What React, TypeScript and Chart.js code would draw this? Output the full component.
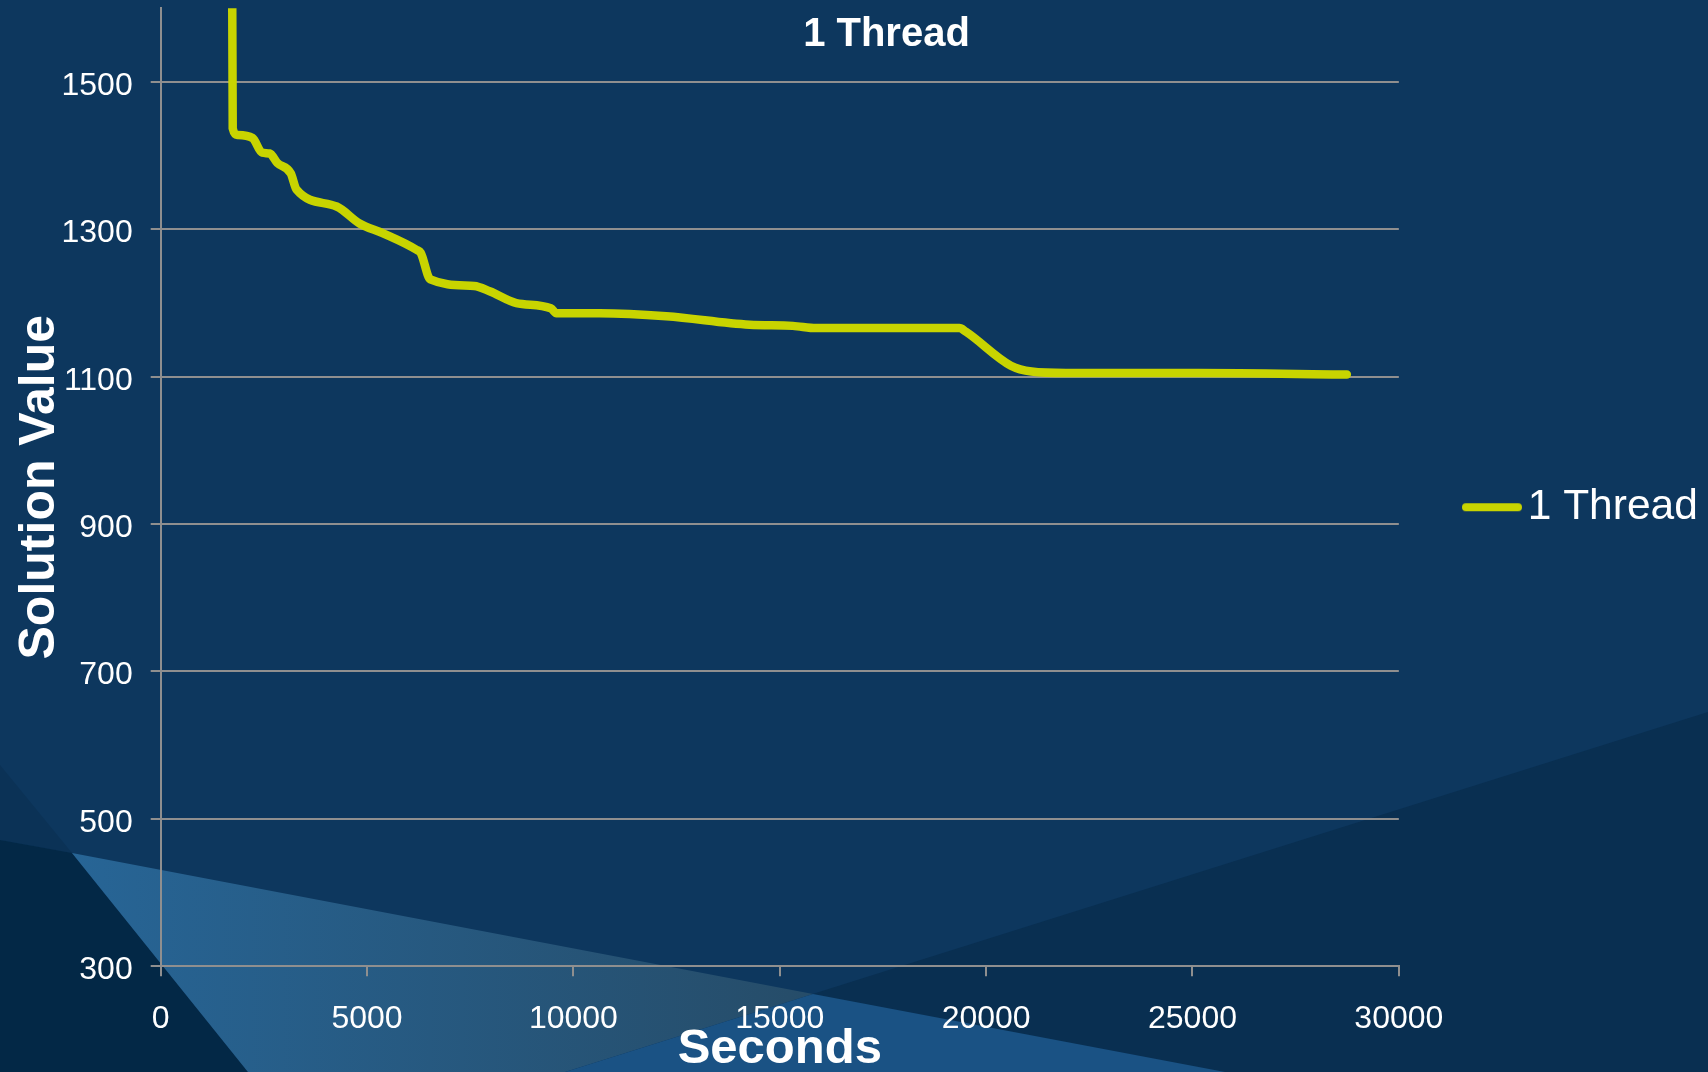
import React, { useEffect, useRef } from "react";
import { Chart, registerables } from "chart.js";

Chart.register(...registerables);

// ---- data ----
const chartTitle = "1 Thread";
const seriesLabel = "1 Thread";
const xAxisTitle = "Seconds";
const yAxisTitle = "Solution Value";

const seconds = [
  1728, 1745, 1855, 2225, 2457, 2641, 2827, 3152, 3290, 4263, 4818, 5375, 6207, 6301,
  6532, 7597, 7969, 8617, 9450, 9589, 10635, 12250, 14267, 15316, 15882, 19351, 19512,
  20600, 21100, 21935, 22740, 25128, 28740,
];
const solutionValue = [
  1720, 1437, 1428, 1424, 1404, 1403, 1390, 1376, 1354, 1331, 1308, 1295, 1272, 1268,
  1232, 1223, 1216, 1200, 1193, 1186, 1186, 1182, 1170.5, 1169, 1166, 1166, 1161,
  1115, 1107, 1105, 1105, 1105, 1103,
];

const xTicks = [0, 5000, 10000, 15000, 20000, 25000, 30000];
const yTicks = [300, 500, 700, 900, 1100, 1300, 1500];

const FONT = "'Liberation Sans', Arial, Helvetica, sans-serif";
const GRID = "#8f8f8f";
const LINE = "#c8d400";
const W = 1708;
const H = 1072;

const backgroundPlugin = {
  id: "slideBackground",
  beforeDraw(chart: any) {
    const { ctx, width, height } = chart;
    ctx.save();
    ctx.fillStyle = "rgb(13,55,94)";
    ctx.fillRect(0, 0, width, height);
    const poly = (pts: number[][], fill: any) => {
      ctx.beginPath();
      pts.forEach(([x, y], i) => (i ? ctx.lineTo(x, y) : ctx.moveTo(x, y)));
      ctx.closePath();
      ctx.fillStyle = fill;
      ctx.fill();
    };
    poly([[565, 1072], [1708, 712], [1708, 1072]], "rgb(9,47,81)");
    poly([[0, 765], [72, 853], [0, 840]], "rgb(11,50,86)");
    poly([[0, 840], [72, 853], [248, 1072], [0, 1072]], "rgb(3,40,70)");
    const g = ctx.createLinearGradient(72, 0, 820, 0);
    g.addColorStop(0, "rgb(39,101,150)");
    g.addColorStop(1, "rgb(38,76,104)");
    poly([[72, 853], [813, 994], [565, 1072], [248, 1072]], g);
    poly([[813, 994], [1225, 1072], [565, 1072]], "rgb(26,82,132)");
    ctx.restore();
  },
};

const floatingTitlePlugin = {
  id: "floatingTitle",
  afterDraw(chart: any, _args: any, opts: any) {
    const { ctx } = chart;
    ctx.save();
    ctx.font = `bold ${opts.size}px ${FONT}`;
    ctx.fillStyle = "#ffffff";
    ctx.textAlign = "center";
    ctx.textBaseline = "middle";
    ctx.fillText(opts.text, opts.x, opts.y);
    ctx.restore();
  },
};

function makeLegendLine(): HTMLCanvasElement {
  const c = document.createElement("canvas");
  c.width = 60;
  c.height = 12;
  const cx = c.getContext("2d")!;
  cx.strokeStyle = LINE;
  cx.lineWidth = 8;
  cx.lineCap = "round";
  cx.beginPath();
  cx.moveTo(4, 6);
  cx.lineTo(56, 6);
  cx.stroke();
  return c;
}

export default function App() {
  const ref = useRef<HTMLCanvasElement | null>(null);

  useEffect(() => {
    if (!ref.current) return;
    const legendLine = makeLegendLine();
    const chart = new Chart(ref.current, {
      type: "line",
      data: {
        datasets: [
          {
            label: seriesLabel,
            data: seconds.map((x, i) => ({ x, y: solutionValue[i] })),
            borderColor: LINE,
            backgroundColor: LINE,
            borderWidth: 8.5,
            pointRadius: 0,
            pointHoverRadius: 0,
            cubicInterpolationMode: "monotone",
            borderCapStyle: "round",
            borderJoinStyle: "round",
            fill: false,
            clip: 0,
          } as any,
        ],
      },
      options: {
        responsive: false,
        maintainAspectRatio: false,
        animation: false,
        devicePixelRatio: 1,
        events: [],
        layout: { padding: { top: 8.3, left: 0, right: 0.2, bottom: 0 } },
        scales: {
          x: {
            type: "linear",
            min: 0,
            max: 30000,
            afterBuildTicks: (a: any) => {
              a.ticks = xTicks.map((v) => ({ value: v }));
            },
            afterFit: (s: any) => {
              s.height = 105.8;
              s.paddingLeft = 0;
              s.paddingRight = 0;
            },
            ticks: {
              color: "#ffffff",
              font: { family: FONT, size: 32 },
              padding: 24,
              maxRotation: 0,
              autoSkip: false,
              callback: (v: any) => String(v),
            },
            grid: { drawOnChartArea: false, color: GRID, lineWidth: 2, tickLength: 10 },
            border: { color: GRID, width: 2 },
            title: {
              display: true,
              text: xAxisTitle,
              color: "#ffffff",
              font: { family: FONT, size: 49, weight: "bold", lineHeight: 1 },
              padding: { top: 0, bottom: -2 },
            },
          },
          y: {
            type: "linear",
            min: 300,
            max: 1600,
            afterBuildTicks: (a: any) => {
              a.ticks = yTicks.map((v) => ({ value: v }));
            },
            afterFit: (s: any) => {
              s.width = 160.7;
              s.paddingTop = 0;
              s.paddingBottom = 0;
            },
            ticks: {
              color: "#ffffff",
              font: { family: FONT, size: 32 },
              padding: 18,
              labelOffset: 4,
              autoSkip: false,
              callback: (v: any) => String(v),
            },
            grid: { color: GRID, lineWidth: 2, tickLength: 10 },
            border: { color: GRID, width: 2 },
            title: {
              display: true,
              text: yAxisTitle,
              color: "#ffffff",
              font: { family: FONT, size: 50, weight: "bold", lineHeight: 1 },
              padding: { top: 15, bottom: 0 },
            },
          },
        },
        plugins: {
          title: { display: false },
          tooltip: { enabled: false },
          legend: {
            position: "right",
            fullSize: false,
            maxWidth: 309,
            title: {
              display: true,
              text: " ",
              font: { family: FONT, size: 30, lineHeight: 1.3333 },
              padding: 0,
            },
            labels: {
              usePointStyle: true,
              pointStyle: legendLine as any,
              pointStyleWidth: 29,
              padding: 78.6,
              color: "#ffffff",
              font: { family: FONT, size: 42.5 },
            },
          },
          floatingTitle: { text: chartTitle, x: 886.5, y: 34.5, size: 40 },
        } as any,
      },
      plugins: [backgroundPlugin, floatingTitlePlugin],
    });
    return () => chart.destroy();
  }, []);

  return (
    <div style={{ position: "fixed", left: 0, top: 0, width: W, height: H, overflow: "hidden" }}>
      <canvas ref={ref} width={W} height={H} style={{ display: "block", width: W, height: H }} />
    </div>
  );
}
